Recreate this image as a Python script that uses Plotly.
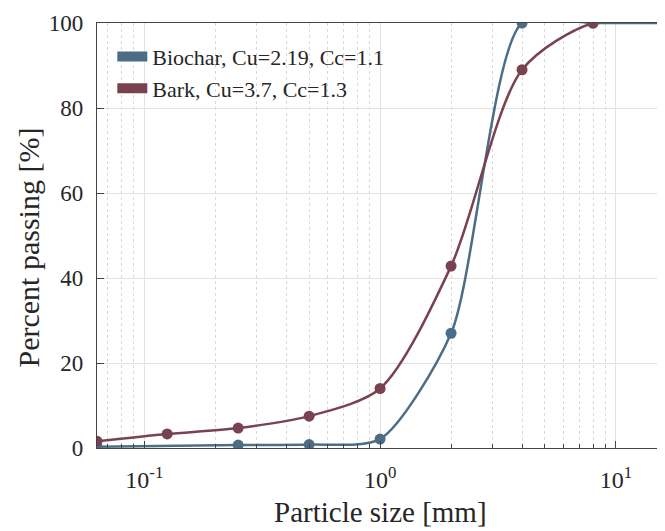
import plotly.graph_objects as go

# Data
biochar_size = [0.063, 0.25, 0.5, 1, 2, 4, 8, 16]
biochar_pass = [0.3, 0.7, 0.8, 2.1, 27, 100, 100, 100]
bark_size = [0.063, 0.125, 0.25, 0.5, 1, 2, 4, 8, 16]
bark_pass = [1.6, 3.3, 4.7, 7.5, 14, 42.8, 89, 100, 100]
labels = ["Biochar, Cu=2.19, Cc=1.1", "Bark, Cu=3.7, Cc=1.3"]
major_ticks = [0.1, 1, 10]
major_text = ["10<sup>-1</sup>", "10<sup>0</sup>", "10<sup>1</sup>"]
minor_ticks = [m * d for d in [0.01, 0.1, 1, 10] for m in range(2, 10)]
x_title = "Particle size [mm]"
y_title = "Percent passing [%]"

c_bio = "#4d6d86"
c_bark = "#7a4250"
font = "Liberation Serif, Times New Roman, serif"
tcol = "#262626"

fig = go.Figure()
fig.add_trace(go.Scatter(x=biochar_size, y=biochar_pass, mode="lines+markers",
                         line=dict(color=c_bio, width=2.5, shape="spline", smoothing=0.7),
                         marker=dict(size=11, color=c_bio), showlegend=False))
fig.add_trace(go.Scatter(x=bark_size, y=bark_pass, mode="lines+markers",
                         line=dict(color=c_bark, width=2.5, shape="spline", smoothing=0.8),
                         marker=dict(size=11, color=c_bark), showlegend=False))
for lab, col in zip(labels, [c_bio, c_bark]):
    fig.add_trace(go.Scatter(x=[None], y=[None], mode="lines", name=lab,
                             line=dict(color=col, width=11)))

fig.update_layout(
    width=657, height=523,
    margin=dict(l=89, r=1, t=15, b=83, autoexpand=False),
    plot_bgcolor="white", paper_bgcolor="white",
    font=dict(family=font, size=22, color=tcol),
    legend=dict(x=0.027, y=0.97, xanchor="left", yanchor="top",
                bgcolor="rgba(255,255,255,0)", font=dict(size=22, family=font, color=tcol),
                tracegroupgap=0, itemwidth=30),
    annotations=[
        dict(text=x_title, x=0.5, y=0, xref="paper", yref="paper",
             xanchor="center", yanchor="middle", yshift=-64, showarrow=False,
             font=dict(size=29, family=font, color=tcol)),
        dict(text=y_title, x=0, y=0.5, xref="paper", yref="paper",
             xanchor="center", yanchor="middle", xshift=-69, yshift=-12,
             textangle=-90, showarrow=False,
             font=dict(size=30, family=font, color=tcol)),
    ],
)
fig.update_xaxes(type="log", range=[-1.2007, 1.2041],
                 tickmode="array", tickvals=major_ticks, ticktext=major_text,
                 ticks="inside", ticklen=7, tickcolor="#444", ticklabelstandoff=10,
                 showline=True, linecolor="#444", linewidth=1.2, mirror=True,
                 showgrid=True, gridcolor="#e2e2e2", gridwidth=1,
                 minor=dict(tickmode="array", tickvals=minor_ticks, ticks="inside",
                            ticklen=4, tickcolor="#444", showgrid=True,
                            gridcolor="#d8d8d8", griddash="dot", gridwidth=1),
                 tickfont=dict(size=24, family=font, color=tcol), zeroline=False)
fig.update_yaxes(range=[0, 100], dtick=20, ticks="inside", ticklen=7, tickcolor="#444",
                 showline=True, linecolor="#444", linewidth=1.2, mirror=True,
                 showgrid=True, gridcolor="#e2e2e2", gridwidth=1, ticklabelstandoff=8,
                 tickfont=dict(size=23, family=font, color=tcol), zeroline=False)

fig.write_html("out.html")
